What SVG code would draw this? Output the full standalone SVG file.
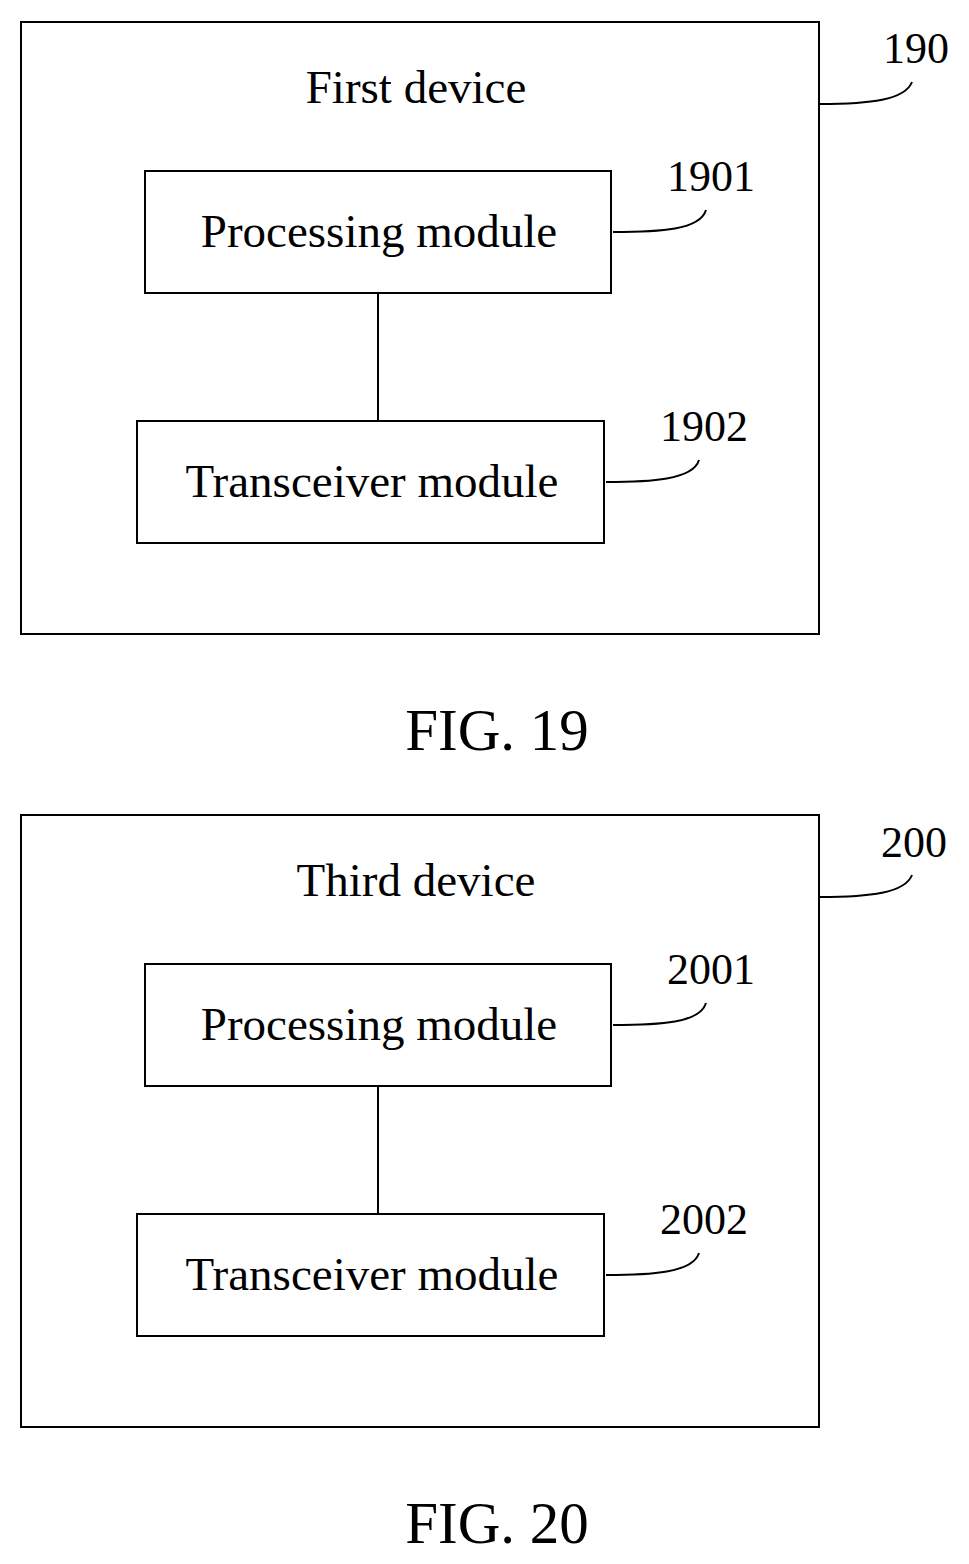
<svg xmlns="http://www.w3.org/2000/svg" width="969" height="1564" viewBox="0 0 969 1564">
<style>
.b{fill:none;stroke:#000;stroke-width:2}
.t{font-family:"Liberation Serif",serif;font-size:47px;fill:#000}
.n{font-family:"Liberation Serif",serif;font-size:44px;fill:#000}
.f{font-family:"Liberation Serif",serif;font-size:59px;fill:#000}
</style>
<rect width="969" height="1564" fill="#fff"/>
<g id="dev190"><rect class="b" x="21" y="22" width="798" height="612"/><text class="t" x="416" y="103" text-anchor="middle">First device</text><text class="n" x="916" y="63" text-anchor="middle">190</text></g>
<g id="m1901"><rect class="b" x="145" y="171" width="466" height="122"/><text class="t" x="379" y="247" text-anchor="middle">Processing module</text><text class="n" x="711" y="191" text-anchor="middle">1901</text></g>
<g id="m1902"><rect class="b" x="137" y="421" width="467" height="122"/><text class="t" x="372" y="497" text-anchor="middle">Transceiver module</text><text class="n" x="704" y="441" text-anchor="middle">1902</text></g>
<g id="dev200"><rect class="b" x="21" y="815" width="798" height="612"/><text class="t" x="416" y="896" text-anchor="middle">Third device</text><text class="n" x="914" y="857" text-anchor="middle">200</text></g>
<g id="m2001"><rect class="b" x="145" y="964" width="466" height="122"/><text class="t" x="379" y="1040" text-anchor="middle">Processing module</text><text class="n" x="711" y="984" text-anchor="middle">2001</text></g>
<g id="m2002"><rect class="b" x="137" y="1214" width="467" height="122"/><text class="t" x="372" y="1290" text-anchor="middle">Transceiver module</text><text class="n" x="704" y="1234" text-anchor="middle">2002</text></g>
<g id="connectors">
<line class="b" x1="378" y1="293" x2="378" y2="421"/>
<line class="b" x1="378" y1="1086" x2="378" y2="1214"/>
<path class="b" d="M820 104 C870 104 905 100 912 82"/>
<path class="b" d="M613 232 C660 232 700 230 706 210"/>
<path class="b" d="M606 482 C650 482 693 480 699 460"/>
<path class="b" d="M820 897 C870 897 905 893 912 875"/>
<path class="b" d="M613 1025 C660 1025 700 1023 706 1003"/>
<path class="b" d="M606 1275 C650 1275 693 1273 699 1253"/>
</g>
<text class="f" x="497" y="750" text-anchor="middle">FIG. 19</text>
<text class="f" x="497" y="1543" text-anchor="middle">FIG. 20</text>
</svg>
